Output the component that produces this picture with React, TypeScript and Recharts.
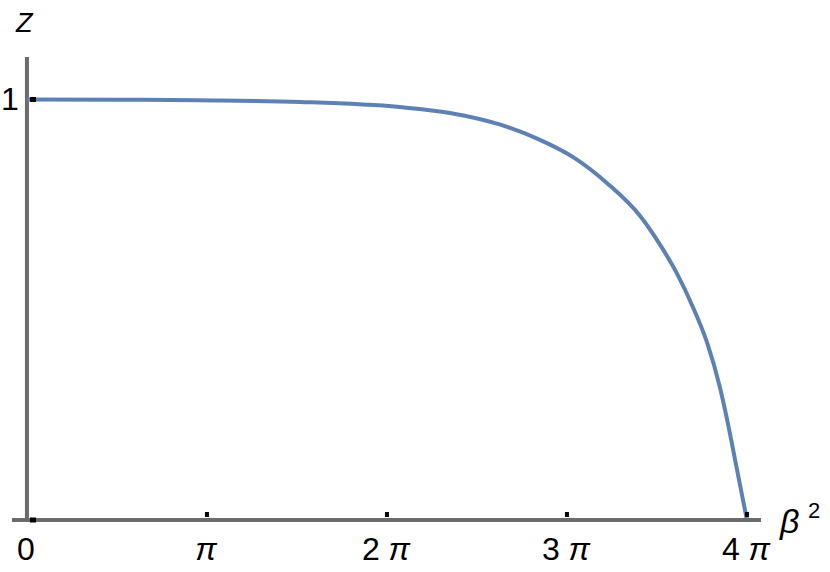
import { LineChart, Line, XAxis, YAxis, ReferenceLine } from "recharts";

// β² in units of π, Z
const betaSq = [0, 0.5, 0.96, 1.52, 2.07, 2.35, 2.63, 2.85, 3.03, 3.22, 3.41, 3.5, 3.61, 3.7, 3.78, 3.85, 3.89, 3.94, 4];
const zVals = [1, 0.9995, 0.998, 0.994, 0.982, 0.968, 0.94, 0.904, 0.864, 0.802, 0.721, 0.666, 0.587, 0.506, 0.42, 0.315, 0.238, 0.13, 0];

const xTicks = [0, 1, 2, 3, 4];
const xTickNums = ["0", "", "2 ", "3 ", "4 "];
const xTickPi = ["", "π", "π", "π", "π"];
const yTicks = [0, 1];
const yTickLabels = ["", "1"];

const data = betaSq.map((b, i) => ({ b, z: zVals[i] }));

const FONT = "'Liberation Sans', Arial, sans-serif";
const AXIS = "#6b6b6b";
const BLUE = "#5e81b5";

function XTick(props: any) {
  const { x, y, payload } = props;
  const i = xTicks.indexOf(payload.value);
  return (
    <g>
      {payload.value !== 0 && <rect x={x - 2} y={y - 8} width={4} height={5} fill="#000" />}
      <text x={x - 1} y={y + 40} textAnchor="middle" fontSize={32} fontFamily={FONT} fill="#000">
        {xTickNums[i]}
        <tspan fontStyle="italic">{xTickPi[i]}</tspan>
      </text>
    </g>
  );
}

function YTick(props: any) {
  const { x, y, payload } = props;
  const i = yTicks.indexOf(payload.value);
  return (
    <g>
      <rect x={x + 18} y={y - 2.5} width={6} height={5} fill="#000" />
      <text x={x - 11} y={y + 11} textAnchor="start" fontSize={32} fontFamily={FONT} fill="#000">
        {yTickLabels[i]}
      </text>
    </g>
  );
}

export default function App() {
  return (
    <div style={{ position: "absolute", left: 0, top: 0, width: 830, height: 572, background: "#fff" }}>
      <LineChart width={830} height={572} data={data} margin={{ top: 57, right: 69, bottom: 0, left: 0 }}>
        <XAxis
          dataKey="b"
          type="number"
          domain={[-0.083, 4.078]}
          ticks={xTicks}
          tick={<XTick />}
          tickLine={false}
          tickSize={0}
          tickMargin={0}
          height={52}
          axisLine={{ stroke: AXIS, strokeWidth: 4 }}
          label={(p: any) => {
            const vb = p.viewBox;
            return (
              <g>
                <text x={vb.x + vb.width + 19} y={vb.y + 13} fontSize={34} fontStyle="italic" fontFamily={FONT} fill="#000">
                  β
                </text>
                <text x={vb.x + vb.width + 47} y={vb.y - 2} fontSize={22} fontFamily={FONT} fill="#000">
                  2
                </text>
              </g>
            );
          }}
        />
        <YAxis
          type="number"
          domain={[0, 1.101]}
          ticks={yTicks}
          tick={<YTick />}
          width={12}
          tickLine={false}
          tickSize={0}
          tickMargin={0}
          axisLine={false}
          allowDataOverflow
          label={(p: any) => {
            const vb = p.viewBox;
            return (
              <text x={vb.x + 16} y={vb.y - 25} fontSize={27} fontStyle="italic" fontFamily={FONT} fill="#000">
                Z
              </text>
            );
          }}
        />
        <ReferenceLine x={0} stroke={AXIS} strokeWidth={4} />
        <Line
          type="monotone"
          dataKey="z"
          stroke={BLUE}
          strokeWidth={4}
          dot={false}
          isAnimationActive={false}
        />
      </LineChart>
    </div>
  );
}
